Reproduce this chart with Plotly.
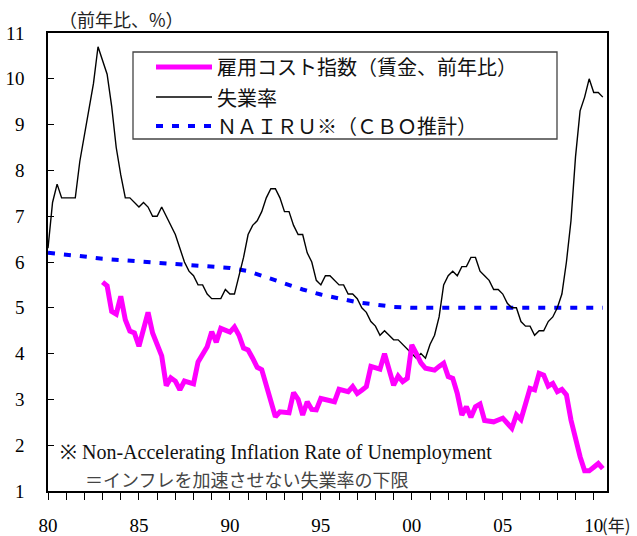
import plotly.graph_objects as go

# ---------------- data ----------------
unemp_start = 1980.0
unemployment = [
    6.3, 7.3, 7.7, 7.4,
    7.4, 7.4, 7.4, 8.2,
    8.8, 9.4, 9.9, 10.7,
    10.4, 10.1, 9.4, 8.5,
    7.9, 7.4, 7.4, 7.3,
    7.2, 7.3, 7.2, 7.0,
    7.0, 7.2, 7.0, 6.8,
    6.6, 6.3, 6.0, 5.8,
    5.7, 5.5, 5.5, 5.3,
    5.2, 5.2, 5.2, 5.4,
    5.3, 5.3, 5.7, 6.1,
    6.6, 6.8, 6.9, 7.1,
    7.4, 7.6, 7.6, 7.4,
    7.1, 7.1, 6.8, 6.6,
    6.6, 6.2, 6.0, 5.6,
    5.5, 5.7, 5.7, 5.6,
    5.5, 5.5, 5.3, 5.3,
    5.2, 5.0, 4.9, 4.7,
    4.6, 4.4, 4.5, 4.4,
    4.3, 4.3, 4.2, 4.1,
    4.0, 3.9, 4.0, 3.9,
    4.2, 4.4, 4.8, 5.5,
    5.7, 5.8, 5.7, 5.9,
    5.9, 6.1, 6.1, 5.8,
    5.7, 5.6, 5.4, 5.4,
    5.3, 5.1, 5.0, 5.0,
    4.7, 4.6, 4.6, 4.4,
    4.5, 4.5, 4.7, 4.8,
    5.0, 5.3, 6.0, 6.9,
    8.3, 9.3, 9.6, 10.0,
    9.7, 9.7, 9.6,
]

eci_start = 1983.0
eci_wages = [
    5.56, 5.48, 4.92, 4.86,
    5.25, 4.74, 4.49, 4.45,
    4.16, 4.53, 4.90, 4.45,
    4.20, 3.95, 3.30, 3.47,
    3.40, 3.21, 3.40, 3.37,
    3.34, 3.82, 4.00, 4.15,
    4.48, 4.25, 4.55, 4.52,
    4.47, 4.58, 4.40, 4.12,
    4.08, 3.90, 3.70, 3.65,
    3.30, 2.99, 2.62, 2.73,
    2.72, 2.71, 3.15, 3.00,
    2.66, 2.95, 2.78, 2.77,
    3.02, 3.00, 2.97, 2.95,
    3.22, 3.20, 3.17, 3.28,
    3.13, 3.20, 3.28, 3.72,
    3.69, 3.66, 4.00, 3.65,
    3.31, 3.51, 3.39, 3.46,
    4.19, 4.00, 3.80, 3.68,
    3.66, 3.64, 3.72, 3.79,
    3.50, 3.46, 3.13, 2.66,
    2.84, 2.61, 2.84, 2.90,
    2.54, 2.53, 2.51, 2.55,
    2.59, 2.48, 2.37, 2.66,
    2.56, 2.90, 3.24, 3.21,
    3.57, 3.53, 3.29, 3.35,
    3.17, 3.22, 3.10, 2.55,
    2.10, 1.75, 1.44, 1.44,
    1.52, 1.60, 1.49,
]

nairu_years = [1980, 1981, 1982, 1983, 1984, 1985, 1986, 1987, 1988, 1989,
               1990, 1991, 1992, 1993, 1994, 1995, 1996, 1997, 1998, 1999,
               2000, 2001, 2002, 2003, 2004, 2005, 2006, 2007, 2008, 2009,
               2010, 2010.5]
nairu = [6.20, 6.17, 6.12, 6.07, 6.04, 6.02, 6.00, 5.96, 5.93, 5.90,
         5.87, 5.80, 5.66, 5.52, 5.40, 5.29, 5.20, 5.12, 5.07, 5.02,
         5.00, 5.00, 5.00, 5.00, 5.00, 5.00, 5.00, 5.00, 5.00, 5.00,
         5.00, 5.00]

tick_years = list(range(1980, 2011))
tick_labels = ["80", "85", "90", "95", "00", "05", "10"]
y_ticks = list(range(1, 12))

legend_names = ["雇用コスト指数（賃金、前年比）", "失業率", "ＮＡＩＲＵ※（ＣＢＯ推計）"]
y_title = "（前年比、%）"
x_unit = "(年)"
note1 = "※ Non-Accelerating Inflation Rate of Unemployment"
note2 = "＝インフレを加速させない失業率の下限"

# quarterly positions (decimal year)
unemp_x = [unemp_start + i / 4 for i in range(len(unemployment))]
eci_x = [eci_start + i / 4 for i in range(len(eci_wages))]
ticktext = [tick_labels[(y - 1980) // 5] if (y - 1980) % 5 == 0 else "" for y in tick_years]

# ---------------- figure ----------------
W, H = 637, 536
L, R, T, B = 48, 607, 33, 491
SERIF = "Liberation Serif"
JP = "Noto Sans CJK JP"

MAG, BLK, BLU = "#FF00FF", "#000000", "#0000FF"

fig = go.Figure()
fig.add_trace(go.Scatter(x=nairu_years, y=nairu, mode="lines",
                         line=dict(color=BLU, width=4, dash="7px,9px"),
                         name=legend_names[2], showlegend=False))
fig.add_trace(go.Scatter(x=unemp_x, y=unemployment, mode="lines",
                         line=dict(color=BLK, width=1.4),
                         name=legend_names[1], showlegend=False))
fig.add_trace(go.Scatter(x=eci_x, y=eci_wages, mode="lines",
                         line=dict(color=MAG, width=5),
                         name=legend_names[0], showlegend=False))


def px(x):
    return (x - L) / (R - L)


def py(y):
    return (B - y) / (B - T)


shapes = []
annotations = []

# legend box
shapes.append(dict(type="rect", xref="paper", yref="paper",
                   x0=px(133), x1=px(557), y0=py(139), y1=py(52),
                   line=dict(color="#444444", width=1.3), fillcolor="white", layer="above"))
legend_rows = [67, 97, 126]
legend_styles = [dict(color=MAG, width=5), dict(color=BLK, width=1.4),
                 dict(color=BLU, width=4, dash="7px,9px")]
for name, ry, st in zip(legend_names, legend_rows, legend_styles):
    shapes.append(dict(type="line", xref="paper", yref="paper",
                       x0=px(156), x1=px(212), y0=py(ry), y1=py(ry), line=st, layer="above"))
    annotations.append(dict(text=name, xref="paper", yref="paper", x=px(215), y=py(ry),
                            xanchor="left", yanchor="middle", showarrow=False,
                            font=dict(family=JP, size=20, color="#111111")))

# y-axis unit title
annotations.append(dict(text=y_title, xref="paper", yref="paper", x=px(57), y=py(19),
                        xanchor="left", yanchor="middle", showarrow=False,
                        font=dict(family=JP, size=18, color="#222222")))
# x unit
annotations.append(dict(text=x_unit, xref="paper", yref="paper", x=px(600), y=py(524),
                        xanchor="left", yanchor="middle", showarrow=False,
                        font=dict(family=JP, size=17, color="#222222")))
# footnotes
annotations.append(dict(text=note1, xref="paper", yref="paper", x=px(58), y=py(452),
                        xanchor="left", yanchor="middle", showarrow=False,
                        font=dict(family=SERIF, size=20, color="#111111")))
annotations.append(dict(text=note2, xref="paper", yref="paper", x=px(83), y=py(479),
                        xanchor="left", yanchor="middle", showarrow=False,
                        font=dict(family=JP, size=18, color="#444444")))

fig.update_layout(
    width=W, height=H,
    margin=dict(l=L, r=W - R, t=T, b=H - B, pad=0),
    paper_bgcolor="white", plot_bgcolor="white",
    font=dict(family=SERIF, size=19, color="black"),
    showlegend=False,
    shapes=shapes, annotations=annotations,
    xaxis=dict(range=[1980, 2010.73], tickmode="array", tickvals=tick_years, ticktext=ticktext,
               ticks="outside", ticklen=7, tickwidth=1.3, tickcolor="black",
               showline=True, linecolor="black", linewidth=1.6, mirror=True,
               showgrid=False, zeroline=False, ticklabelstandoff=9, automargin=False,
               tickfont=dict(family=SERIF, size=19, color="black")),
    yaxis=dict(range=[1, 11], tickmode="array", tickvals=y_ticks,
               ticks="inside", ticklen=6, tickwidth=1.3, tickcolor="black",
               showline=True, linecolor="black", linewidth=1.6, mirror=True,
               showgrid=False, zeroline=False, ticklabelstandoff=18, automargin=False,
               tickfont=dict(family=SERIF, size=19, color="black")),
)

fig.write_html("out.html", config={"displayModeBar": False},
               post_script="document.body.style.margin='0';document.body.style.overflow='hidden';")
